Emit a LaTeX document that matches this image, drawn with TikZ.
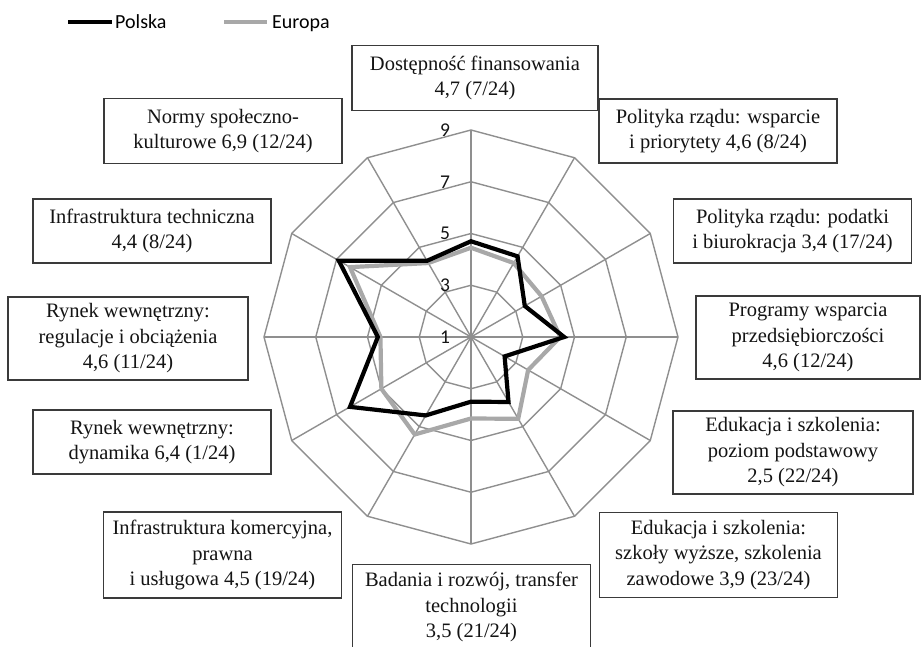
\documentclass[tikz,border=0pt]{standalone}
\usepackage{fontspec}
\setmainfont{Liberation Serif}
\newfontfamily\chartsans{Carlito}
\definecolor{gridgray}{HTML}{8F8F8F}
\definecolor{eurogray}{HTML}{A8A8A8}
\definecolor{boxgray}{HTML}{3A3A3A}
\definecolor{inkblack}{HTML}{141414}
\begin{document}
\begin{tikzpicture}[x=1pt,y=-1pt,
  gridline/.style={draw=gridgray, line width=1.4pt},
  polska/.style={draw=black, line width=4.2pt, line join=miter},
  europa/.style={draw=eurogray, line width=4.2pt, line join=miter},
  axlab/.style={font=\chartsans\fontsize{19.5}{20}\selectfont, text=inkblack, inner sep=0pt},
  leglab/.style={font=\chartsans\fontsize{20}{20}\selectfont, text=black, inner sep=0pt, anchor=base west},
  labelbox/.style={draw=boxgray, line width=1.3pt, fill=white, align=center,
    inner sep=0pt, text=inkblack, font=\fontsize{20.5}{25.5}\selectfont}
]
\useasboundingbox (0,0) rectangle (924,647);
\clip (0,0) rectangle (924,647);

% legend
\coordinate (lp1) at (68,22);
\coordinate (lp2) at (112,22);
\coordinate (le1) at (224,22);
\coordinate (le2) at (267,22);
\draw[polska] (lp1) -- (lp2);
\draw[europa] (le1) -- (le2);
\node[leglab] (legpl) at (115,29) {Polska};
\node[leglab] (legeu) at (272,29) {Europa};

% radar chart
\begin{scope}[shift={(471,337)}]
  % rings for the values 3, 5, 7, 9
  \foreach \r in {51.75,103.5,155.25,207}
    \draw[gridline] (-90:\r) \foreach \i in {1,...,11} { -- ({\i*30-90}:\r) } -- cycle;
  % spokes
  \foreach \i in {0,...,11}
    \draw[gridline] (0,0) -- ({\i*30-90}:207);
  \fill[gridgray] (0,0) circle (2.5pt);
  % scale labels
  \foreach \v/\r in {1/0,3/51.75,5/103.5,7/155.25,9/207}
    \node[axlab] (ax\v) at (-26,-\r) {\v};

  % data: value v sits at radius (v-1)*25.875
  \foreach \v [count=\i from 0] in {4.45,4.3,4.15,4.45,3.55,4.65,4.15,5.35,5.0,4.5,6.4,4.3}
    \coordinate (e\i) at ({\i*30-90}:{(\v-1)*25.875});
  \foreach \v [count=\i from 0] in {4.7,4.6,3.4,4.6,2.5,3.9,3.5,4.5,6.4,4.6,6.9,4.4}
    \coordinate (p\i) at ({\i*30-90}:{(\v-1)*25.875});
  \draw[europa] (e0) \foreach \i in {1,...,11} { -- (e\i) } -- cycle;
  \draw[polska] (p0) \foreach \i in {1,...,11} { -- (p\i) } -- cycle;
\end{scope}

% factor boxes
\node[labelbox, minimum width=246pt, minimum height=65pt] (b1) at (475,78)
  {Dostępność finansowania\\4,7 (7/24)};
\node[labelbox, minimum width=238pt, minimum height=64pt] (b2) at (718,131)
  {Polityka rządu: wsparcie\\i priorytety 4,6 (8/24)};
\node[labelbox, minimum width=238pt, minimum height=64pt] (b3) at (792.5,231)
  {Polityka rządu: podatki\\i biurokracja 3,4 (17/24)};
\node[labelbox, minimum width=224pt, minimum height=83pt] (b4) at (808,337.5)
  {Programy wsparcia\\przedsiębiorczości\\4,6 (12/24)};
\node[labelbox, minimum width=240pt, minimum height=83pt] (b5) at (793,452.5)
  {Edukacja i szkolenia:\\poziom podstawowy\\2,5 (22/24)};
\node[labelbox, minimum width=238pt, minimum height=85pt] (b6) at (718.5,555)
  {Edukacja i szkolenia:\\szkoły wyższe, szkolenia\\zawodowe 3,9 (23/24)};
\node[labelbox, minimum width=238pt, minimum height=85pt] (b7) at (471.5,607)
  {Badania i rozwój, transfer\\technologii\\3,5 (21/24)};
\node[labelbox, minimum width=238pt, minimum height=86pt] (b8) at (222.5,555)
  {Infrastruktura komercyjna,\\prawna\\i usługowa 4,5 (19/24)};
\node[labelbox, minimum width=238pt, minimum height=64pt] (b9) at (152,442)
  {Rynek wewnętrzny:\\dynamika 6,4 (1/24)};
\node[labelbox, minimum width=240pt, minimum height=83pt] (b10) at (128,338.5)
  {Rynek wewnętrzny:\\regulacje i obciążenia\\4,6 (11/24)};
\node[labelbox, minimum width=238pt, minimum height=64pt] (b11) at (152,231)
  {Infrastruktura techniczna\\4,4 (8/24)};
\node[labelbox, minimum width=238pt, minimum height=65pt] (b12) at (223,131)
  {Normy społeczno-\\kulturowe 6,9 (12/24)};
\end{tikzpicture}
\end{document}
